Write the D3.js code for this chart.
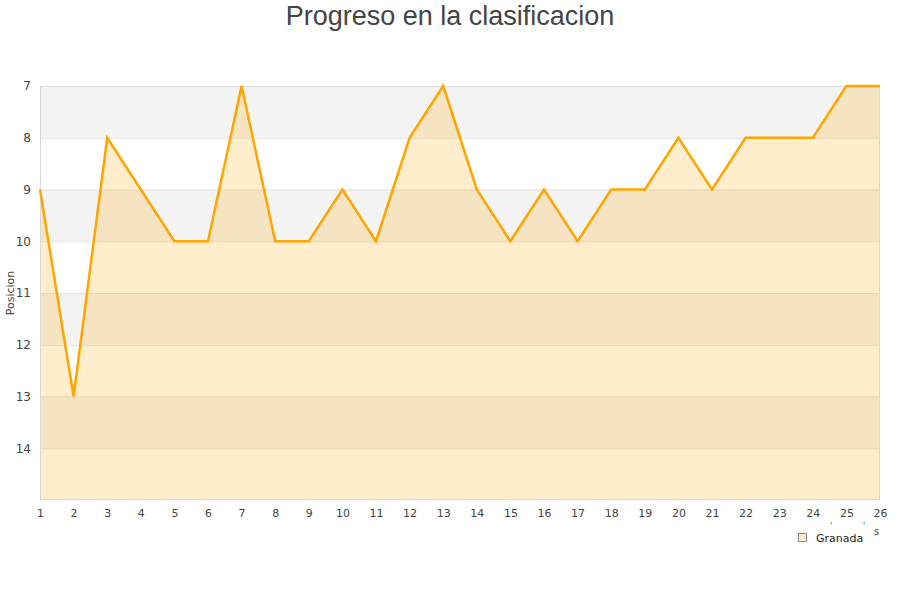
<!DOCTYPE html>
<html><head><meta charset="utf-8">
<script src="https://cdn.jsdelivr.net/npm/d3@7"></script>
<style>body{margin:0;background:#fff}</style>
</head><body>
<svg id="c" width="900" height="600"></svg>
<script>
const jornadas = [1,2,3,4,5,6,7,8,9,10,11,12,13,14,15,16,17,18,19,20,21,22,23,24,25,26];
const posiciones = [9,13,8,9,10,10,7,10,10,9,10,8,7,9,10,9,10,9,9,8,9,8,8,8,7,7];
const yTicks = [7,8,9,10,11,12,13,14];
const seriesName = "Granada";
const title = "Progreso en la clasificacion";
const yTitle = "Posicion";

const svg = d3.select("#c");
const L=40,R=880,T=86,B=500;
const x = d3.scaleLinear().domain([1,26]).range([L,R]);
const y = d3.scaleLinear().domain([7,15]).range([T,B]);

// bands
const bands = d3.range(7,15);
svg.append("g").selectAll("rect").data(bands).join("rect")
  .attr("x",L).attr("width",R-L)
  .attr("y",d=>y(d)).attr("height",d=>y(d+1)-y(d))
  .attr("fill",d=>d%2===1?"#f3f3f3":"#ffffff");

// grid
svg.append("g").selectAll("line").data(d3.range(8,15)).join("line")
  .attr("x1",L).attr("x2",R).attr("y1",d=>y(d)+0.5).attr("y2",d=>y(d)+0.5)
  .attr("stroke","#e2e2e2").attr("stroke-width",1);

// area
const area = d3.area().x((d,i)=>x(jornadas[i])).y0(y(15)).y1(d=>y(d));
svg.append("path").datum(posiciones).attr("d",area)
  .attr("fill","#ffa500").attr("fill-opacity",0.2);

// border
svg.append("rect").attr("x",L+0.5).attr("y",T+0.5).attr("width",R-L-1).attr("height",B-T-1)
  .attr("fill","none").attr("stroke","#d8d8d8");

// line
const line = d3.line().x((d,i)=>x(jornadas[i])).y(d=>y(d));
svg.append("path").datum(posiciones).attr("d",line)
  .attr("fill","none").attr("stroke","#ffa500").attr("stroke-width",2.5).attr("stroke-linejoin","miter");

// y axis labels
const ya = d3.axisLeft(y).tickValues(yTicks).tickSize(0).tickPadding(9);
const gy = svg.append("g").attr("transform",`translate(${L},0)`).call(ya);
gy.select(".domain").remove();
gy.selectAll("text").attr("font-family","DejaVu Sans, sans-serif").attr("font-size",12).attr("fill","#444");

// x axis labels
const xa = d3.axisBottom(x).tickValues(jornadas).tickFormat(d3.format("d")).tickSize(0).tickPadding(9);
const gx = svg.append("g").attr("transform",`translate(0,${B})`).call(xa);
gx.select(".domain").remove();
gx.selectAll("text").attr("font-family","DejaVu Sans, sans-serif").attr("font-size",11).attr("fill","#444");

// y title
svg.append("text").attr("transform","translate(14,293) rotate(-90)").attr("text-anchor","middle")
  .attr("font-family","DejaVu Sans, sans-serif").attr("font-size",11).attr("fill","#444").text(yTitle);

// title
svg.append("text").attr("x",450).attr("y",25).attr("text-anchor","middle")
  .attr("font-family","Liberation Sans, Arial, sans-serif").attr("font-size",27).attr("fill","#444").text(title);

// clipped axis title remnants
svg.append("text").attr("x",874).attr("y",535).attr("font-family","DejaVu Sans, sans-serif")
  .attr("font-size",10).attr("fill","#444").text("s");
svg.append("text").attr("x",830).attr("y",529).attr("font-family","DejaVu Sans, sans-serif")
  .attr("font-size",8).attr("fill","#444").text("'");
svg.append("text").attr("x",863).attr("y",529).attr("font-family","DejaVu Sans, sans-serif")
  .attr("font-size",8).attr("fill","#444").text("'");

// legend
svg.append("rect").attr("x",798.5).attr("y",533.5).attr("width",8).attr("height",8)
  .attr("fill","#ffedcc").attr("stroke","#444").attr("stroke-width",0.6);
svg.append("text").attr("x",816).attr("y",541.5).attr("font-family","DejaVu Sans, sans-serif")
  .attr("font-size",11).attr("fill","#222").text(seriesName);
</script>
</body></html>
